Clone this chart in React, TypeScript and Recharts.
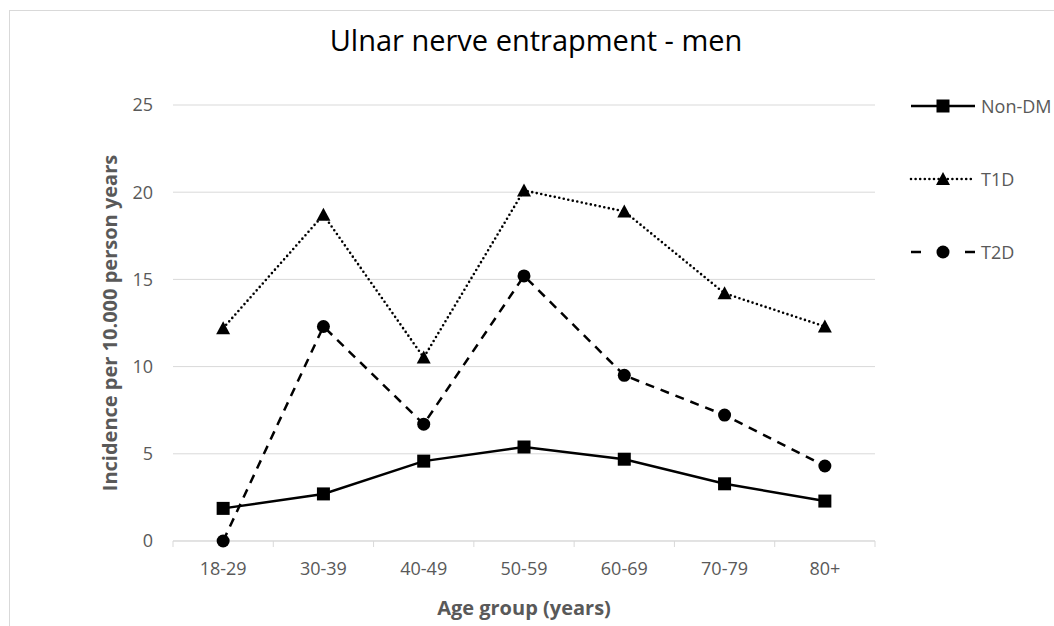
import { LineChart, Line, XAxis, YAxis, CartesianGrid, Legend, Label } from 'recharts'

const ageGroups = ['18-29', '30-39', '40-49', '50-59', '60-69', '70-79', '80+']
const nonDm = [1.87, 2.7, 4.58, 5.39, 4.69, 3.28, 2.29]
const t1d = [12.2, 18.7, 10.52, 20.1, 18.9, 14.2, 12.3]
const t2d = [0, 12.3, 6.7, 15.2, 9.5, 7.22, 4.3]
const yTicks = [0, 5, 10, 15, 20, 25]

const chartData = ageGroups.map((age, i) => ({
  age,
  nonDm: nonDm[i],
  t1d: t1d[i],
  t2d: t2d[i],
}))

const FONT = '"Open Sans", "Noto Sans", sans-serif'
const GREY = '#595959'
const GRID = '#d9d9d9'

const DOTTED = '0 4.6'
const DASHED = '9 7'
const X_TICK_GAP = 21

function Square(props: any) {
  const { cx, cy } = props
  if (cx == null || cy == null) return null
  return <rect x={cx - 6.5} y={cy - 6.5} width={13} height={13} fill="#000" />
}

function Triangle(props: any) {
  const { cx, cy } = props
  if (cx == null || cy == null) return null
  return <polygon points={`${cx},${cy - 7} ${cx + 7},${cy + 6} ${cx - 7},${cy + 6}`} fill="#000" />
}

function Circle(props: any) {
  const { cx, cy } = props
  if (cx == null || cy == null) return null
  return <circle cx={cx} cy={cy} r={6.5} fill="#000" />
}

// category label plus Excel-style tick marks between the categories
function AgeTick(props: any) {
  const { x, y, payload, index, visibleTicksCount, width } = props
  const half = payload?.offset || width / visibleTicksCount / 2
  const axisY = y - X_TICK_GAP
  const last = index === visibleTicksCount - 1
  return (
    <g>
      <line x1={x - half} x2={x - half} y1={axisY} y2={axisY + 6} stroke={GRID} />
      {last && <line x1={x + half} x2={x + half} y1={axisY} y2={axisY + 6} stroke={GRID} />}
      <text x={x} y={y} dy="0.71em" textAnchor="middle" fill={GREY} fontSize={18} fontFamily={FONT}>
        {payload.value}
      </text>
    </g>
  )
}

const legendRows = [
  { name: 'Non-DM', dash: undefined, cap: 'butt', marker: 'square' },
  { name: 'T1D', dash: DOTTED, cap: 'round', marker: 'triangle' },
  { name: 'T2D', dash: '10 44', cap: 'butt', marker: 'circle' },
]

function LegendBox() {
  return (
    <div style={{ fontFamily: FONT }}>
      {legendRows.map((r) => (
        <div key={r.name} style={{ display: 'flex', alignItems: 'center', height: 20, marginBottom: 53 }}>
          <svg width={76} height={20}>
            <line
              x1={6}
              x2={70}
              y1={10}
              y2={10}
              stroke="#000"
              strokeWidth={r.dash === DOTTED ? 2.6 : 2.5}
              strokeDasharray={r.dash}
              strokeLinecap={r.cap as any}
            />
            {r.marker === 'square' && <Square cx={38} cy={10} />}
            {r.marker === 'triangle' && <Triangle cx={38} cy={10} />}
            {r.marker === 'circle' && <Circle cx={38} cy={10} />}
          </svg>
          <span style={{ fontSize: 18, color: GREY, whiteSpace: 'nowrap' }}>{r.name}</span>
        </div>
      ))}
    </div>
  )
}

export default function App() {
  return (
    <div style={{ position: 'fixed', left: 0, top: 0, width: 1054, height: 626, overflow: 'hidden', background: '#fff' }}>
      <div style={{ position: 'absolute', left: 9, top: 10, width: 1100, height: 700, border: `1px solid ${GRID}` }} />
      <div
        style={{
          position: 'absolute',
          left: 0,
          top: 22,
          width: 1072,
          textAlign: 'center',
          fontFamily: FONT,
          fontSize: 29,
          lineHeight: '36px',
          color: '#000',
        }}
      >
        Ulnar nerve entrapment - men
      </div>
      <div style={{ position: 'absolute', left: 0, top: 0 }}>
        <LineChart width={1054} height={626} data={chartData} margin={{ top: 105, right: 179, left: 113, bottom: 0 }}>
          <CartesianGrid vertical={false} stroke={GRID} />
          <XAxis
            dataKey="age"
            scale="band"
            height={85}
            axisLine={{ stroke: GRID }}
            tickLine={false}
            tickSize={0}
            tickMargin={X_TICK_GAP}
            tick={<AgeTick />}
            interval={0}
          >
            <Label
              content={({ viewBox }: any) => (
                <text
                  x={viewBox.x + viewBox.width / 2}
                  y={viewBox.y + 66}
                  textAnchor="middle"
                  dominantBaseline="central"
                  fill={GREY}
                  fontSize={20}
                  fontWeight="bold"
                  fontFamily={FONT}
                >
                  Age group (years)
                </text>
              )}
            />
          </XAxis>
          <YAxis
            domain={[0, 25]}
            ticks={yTicks}
            width={60}
            axisLine={false}
            tickLine={false}
            tickSize={0}
            tickMargin={20}
            tick={{ fill: GREY, fontSize: 18, fontFamily: FONT }}
          >
            <Label
              content={({ viewBox }: any) => {
                const x = viewBox.x - 4
                const y = viewBox.y + viewBox.height / 2
                return (
                  <text
                    x={x}
                    y={y}
                    transform={`rotate(-90 ${x} ${y})`}
                    textAnchor="middle"
                    dominantBaseline="central"
                    fill={GREY}
                    fontSize={20}
                    fontWeight="bold"
                    fontFamily={FONT}
                  >
                    Incidence per 10.000 person years
                  </text>
                )
              }}
            />
          </YAxis>
          <Legend
            layout="horizontal"
            verticalAlign="middle"
            align="center"
            content={() => <LegendBox />}
            wrapperStyle={{ left: 905, top: 96, width: 149 }}
          />
          <Line
            dataKey="nonDm"
            name="Non-DM"
            stroke="#000"
            strokeWidth={2.5}
            dot={(p: any) => <Square key={`s${p.index}`} {...p} />}
            activeDot={false}
            isAnimationActive={false}
          />
          <Line
            dataKey="t1d"
            name="T1D"
            stroke="#000"
            strokeWidth={2.6}
            strokeDasharray={DOTTED}
            strokeLinecap="round"
            dot={(p: any) => <Triangle key={`t${p.index}`} {...p} />}
            activeDot={false}
            isAnimationActive={false}
          />
          <Line
            dataKey="t2d"
            name="T2D"
            stroke="#000"
            strokeWidth={2.5}
            strokeDasharray={DASHED}
            dot={(p: any) => <Circle key={`c${p.index}`} {...p} />}
            activeDot={false}
            isAnimationActive={false}
          />
        </LineChart>
      </div>
    </div>
  )
}
